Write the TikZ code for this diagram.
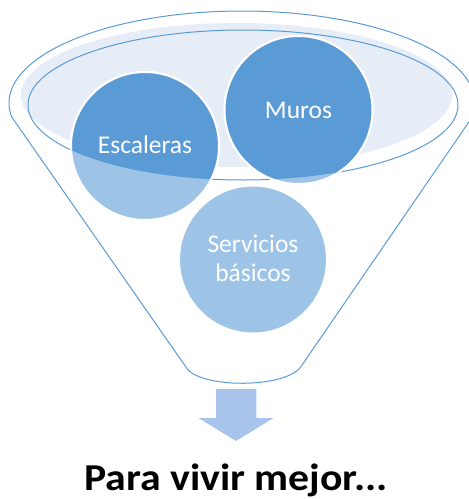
\documentclass[tikz,border=0pt]{standalone}
\usepackage{fontspec}
\setmainfont{Carlito}
\usetikzlibrary{calc}
\definecolor{darkblue}{HTML}{5B9BD5}
\definecolor{lightblue}{HTML}{9DC3E6}
\definecolor{rimfill}{HTML}{E6EDF7}
\definecolor{arrowblue}{HTML}{A9C4EB}
\tikzset{
  circnode/.style={circle, minimum size=148pt, inner sep=0pt, draw=white, line width=2pt},
  lbl/.style={text=white, font=\fontsize{25.5}{29}\selectfont, anchor=base, inner sep=0pt, align=center},
  funnelline/.style={draw=darkblue, line width=1pt},
}
\begin{document}
\begin{tikzpicture}[x=1pt,y=-1pt]
\useasboundingbox (0,0) rectangle (469,499);
\clip (0,0) rectangle (469,499);
% rim fill
\fill[rimfill] (236.5,95) ellipse [x radius=215.5, y radius=72];
% inner rim outline
\draw[funnelline] (243,105) ellipse [x radius=215, y radius=75];
% funnel outline
\draw[funnelline, line join=round]
  plot[domain=-8.75:188.75, samples=90] ({242+233*cos(\x)},{103-92*sin(\x)})
  -- (188,370) .. controls (206,388) and (282,388) .. (300,368) -- cycle;
% circles (lower, light part)
\node[circnode, fill=lightblue] (esc) at (145,146) {};
\node[circnode, fill=lightblue] (mur) at (298.5,110) {};
\node[circnode, fill=lightblue] (serv) at (253,259.5) {};
% dark part inside the rim
\begin{scope}
  \clip (243,105) ellipse [x radius=215, y radius=75];
  \node[circnode, fill=darkblue] (escdark) at (esc) {};
  \node[circnode, fill=darkblue] (murdark) at (mur) {};
\end{scope}
% labels
\node[lbl] (esclbl) at (145,153) {Escaleras};
\node[lbl] (murlbl) at (298.5,118) {Muros};
\node[lbl] (servlbl) at (253,281) {Servicios\\básicos};
% arrow
\draw[fill=arrowblue, draw=white, line width=1.5pt, line join=miter]
  (215,388) -- (257,388) -- (257,417) -- (277,417) -- (236,442) -- (195,417) -- (215,417) -- cycle;
% bottom text
\node[anchor=base, inner sep=0pt, font=\bfseries\fontsize{38}{44}\selectfont] (mejor) at (236,490) {\scalebox{1.1}[1]{Para vivir mejor...}};
\end{tikzpicture}
\end{document}
